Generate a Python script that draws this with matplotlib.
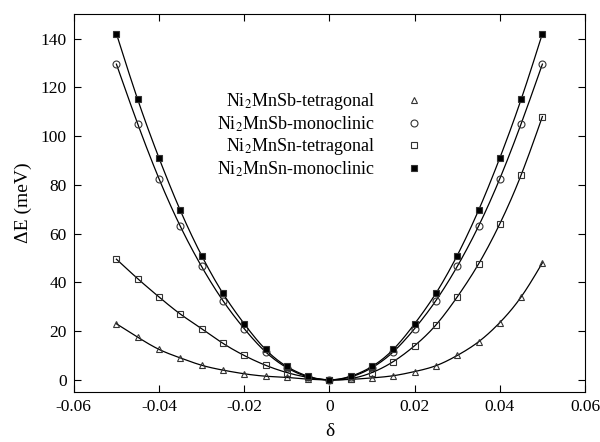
import numpy as np
import matplotlib
matplotlib.use("Agg")
import matplotlib.pyplot as plt

plt.rcParams['font.family'] = ['Liberation Serif', 'DejaVu Serif']
plt.rcParams['mathtext.fontset'] = 'stix'

delta = [-0.05, -0.045, -0.04, -0.035, -0.03, -0.025, -0.02, -0.015, -0.01, -0.005, 0.0,
         0.005, 0.01, 0.015, 0.02, 0.025, 0.03, 0.035, 0.04, 0.045, 0.05]

sb_tetragonal = [23, 17.5, 12.5, 9, 6, 4, 2.5, 1.5, 1, 0.3, 0,
                 0.2, 0.8, 1.7, 3.4, 5.8, 10, 15.6, 23.5, 34, 48]
sb_monoclinic = [129.5, 105, 82.5, 63, 46.5, 32.5, 21, 11.5, 5, 1.2, 0,
                 1.2, 5, 11.5, 21, 32.5, 46.5, 63, 82.5, 105, 129.5]
sn_tetragonal = [49.5, 41.5, 34, 27, 21, 15, 10, 6, 3, 1, 0,
                 0.5, 3, 7.5, 14, 22.5, 34, 47.5, 64, 84, 108]
sn_monoclinic = [142, 115, 91, 69.5, 51, 35.5, 23, 12.5, 5.5, 1.5, 0,
                 1.5, 5.5, 12.5, 23, 35.5, 51, 69.5, 91, 115, 142]

labels = [r'Ni$_2$MnSb-tetragonal', r'Ni$_2$MnSb-monoclinic',
          r'Ni$_2$MnSn-tetragonal', r'Ni$_2$MnSn-monoclinic']


def spline(x, y, n=300):
    # natural cubic spline, only for drawing the smooth line
    x = np.asarray(x, float)
    y = np.asarray(y, float)
    h = np.diff(x)
    m = len(x)
    A = np.zeros((m, m))
    b = np.zeros(m)
    A[0, 0] = A[-1, -1] = 1
    for i in range(1, m - 1):
        A[i, i - 1] = h[i - 1]
        A[i, i] = 2 * (h[i - 1] + h[i])
        A[i, i + 1] = h[i]
        b[i] = 6 * ((y[i + 1] - y[i]) / h[i] - (y[i] - y[i - 1]) / h[i - 1])
    M = np.linalg.solve(A, b)
    xs = np.linspace(x[0], x[-1], n)
    k = np.clip(np.searchsorted(x, xs) - 1, 0, m - 2)
    t1 = x[k + 1] - xs
    t0 = xs - x[k]
    hk = h[k]
    ys = (M[k] * t1 ** 3 + M[k + 1] * t0 ** 3) / (6 * hk) \
        + (y[k] / hk - M[k] * hk / 6) * t1 + (y[k + 1] / hk - M[k + 1] * hk / 6) * t0
    return xs, ys


fig = plt.figure(figsize=(6, 4.42), dpi=100)
ax = fig.add_axes([0.123, 0.113, 0.852, 0.855])

series = [sb_tetragonal, sb_monoclinic, sn_tetragonal, sn_monoclinic]
markers = ['^', 'o', 's', 's']
faces = ['none', 'none', 'none', 'black']
sizes = [4.5, 5, 5, 5]

for vals, mk, fc, ms, lab in zip(series, markers, faces, sizes, labels):
    xs, ys = spline(delta, vals)
    ax.plot(xs, ys, color='black', lw=0.9)
    ax.plot(delta, vals, ls='none', marker=mk, mfc=fc, mec='#333333', mew=0.8, ms=ms, label=lab)

ax.set_xlim(-0.06, 0.06)
ax.set_ylim(-5, 150)
ax.set_xticks([-0.06, -0.04, -0.02, 0, 0.02, 0.04, 0.06])
ax.set_xticklabels(['-0.06', '-0.04', '-0.02', '0', '0.02', '0.04', '0.06'])
ax.set_yticks(range(0, 141, 20))
ax.tick_params(direction='in', top=True, right=True, length=5, labelsize=12.5, width=0.8, pad=5)
ax.set_xlabel('δ', fontsize=14, labelpad=6)
ax.set_ylabel('ΔE (meV)', fontsize=14, labelpad=6)

ax.legend(loc='upper right', bbox_to_anchor=(0.70, 0.815), frameon=False, markerfirst=False,
          fontsize=13, handlelength=1.2, handletextpad=1.55, labelspacing=0.13, borderaxespad=0)

fig.savefig('out.png', dpi=100)
